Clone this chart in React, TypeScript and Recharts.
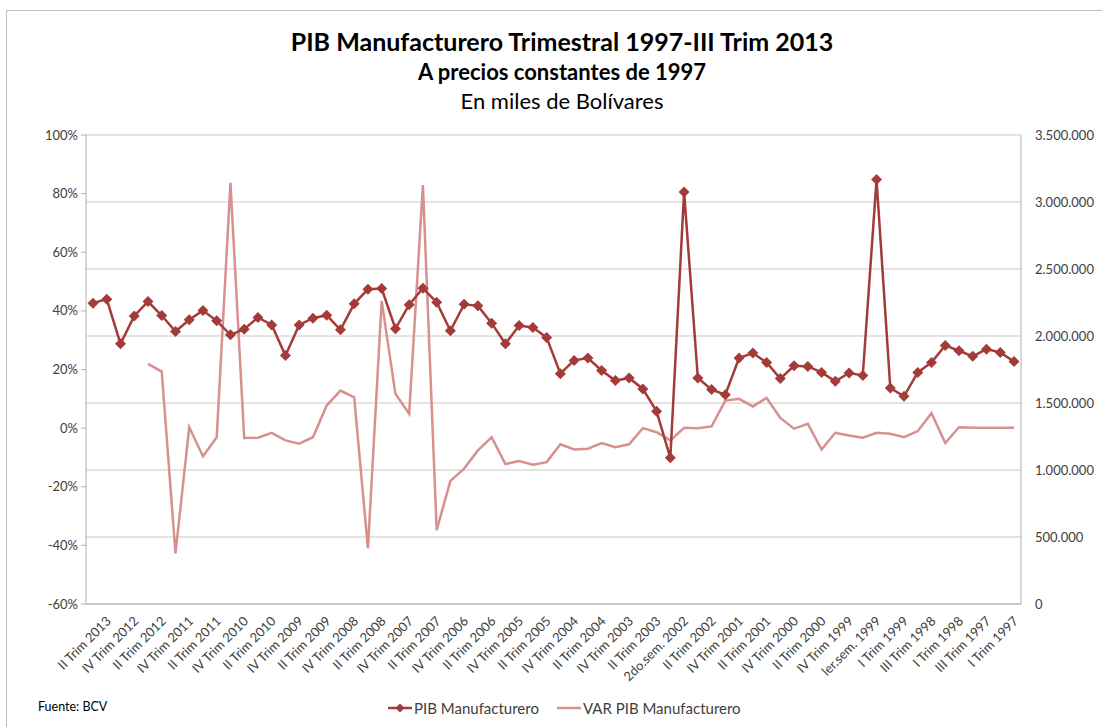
import { CartesianGrid, Line, LineChart, XAxis, YAxis } from "recharts";

const categories = [
  "III Trim 2013", "II Trim 2013", "I Trim 2013",
  "IV Trim 2012", "III Trim 2012", "II Trim 2012", "I Trim 2012",
  "IV Trim 2011", "III Trim 2011", "II Trim 2011", "I Trim 2011",
  "IV Trim 2010", "III Trim 2010", "II Trim 2010", "I Trim 2010",
  "IV Trim 2009", "III Trim 2009", "II Trim 2009", "I Trim 2009",
  "IV Trim 2008", "III Trim 2008", "II Trim 2008", "I Trim 2008",
  "IV Trim 2007", "III Trim 2007", "II Trim 2007", "I Trim 2007",
  "IV Trim 2006", "III Trim 2006", "II Trim 2006", "I Trim 2006",
  "IV Trim 2005", "III Trim 2005", "II Trim 2005", "I Trim 2005",
  "IV Trim 2004", "III Trim 2004", "II Trim 2004", "I Trim 2004",
  "IV Trim 2003", "III Trim 2003", "II Trim 2003", "I Trim 2003",
  "2do.sem. 2002", "III Trim 2002", "II Trim 2002", "I Trim 2002",
  "IV Trim 2001", "III Trim 2001", "II Trim 2001", "I Trim 2001",
  "IV Trim 2000", "III Trim 2000", "II Trim 2000", "I Trim 2000",
  "IV Trim 1999", "III Trim 1999", "ler.sem. 1999", "II Trim 1999", "I Trim 1999",
  "IV Trim 1998", "III Trim 1998", "II Trim 1998", "I Trim 1998",
  "IV Trim 1997", "III Trim 1997", "II Trim 1997", "I Trim 1997",
];

// miles de Bs. (eje derecho)
const pibManufacturero = [
  2245000, 2275000, 1942000,
  2150000, 2257000, 2153000, 2034000,
  2121000, 2190000, 2113000, 2009000,
  2051000, 2138000, 2083000, 1855000,
  2083000, 2133000, 2155000, 2046000,
  2240000, 2349000, 2354000, 2054000,
  2234000, 2356000, 2252000, 2039000,
  2237000, 2225000, 2096000, 1942000,
  2078000, 2063000, 1989000, 1719000,
  1818000, 1836000, 1743000, 1667000,
  1687000, 1605000, 1438000, 1091000,
  3075000, 1687000, 1600000, 1562000,
  1836000, 1873000, 1803000, 1682000,
  1778000, 1773000, 1728000, 1662000,
  1724000, 1706000, 3167000, 1612000, 1550000,
  1728000, 1803000, 1930000, 1890000,
  1848000, 1902000, 1877000, 1810000,
];

// % (eje izquierdo)
const varPibManufacturero: (number | null)[] = [
  null, null, null,
  null, 21.9, 19.3, -42.7,
  0.3, -9.6, -3.1, 83.7,
  -3.4, -3.3, -1.6, -4.2,
  -5.3, -3.1, 7.7, 12.8,
  10.5, -41.0, 43.4, 11.7,
  4.9, 82.9, -34.8, -18.0,
  -13.8, -7.6, -3.1, -12.3,
  -11.2, -12.5, -11.6, -5.5,
  -7.3, -7.0, -5.1, -6.5,
  -5.5, 0.0, -1.4, -4.2,
  0.1, 0.0, 0.6, 9.4,
  10.0, 7.4, 10.3, 3.5,
  -0.2, 1.5, -7.3, -1.6,
  -2.5, -3.3, -1.6, -1.9, -3.1,
  -1.0, 5.1, -5.1, 0.3,
  0.1, 0.1, 0.1, 0.1,
];

const leftTicks = [-60, -40, -20, 0, 20, 40, 60, 80, 100];
const rightTicks = [0, 500000, 1000000, 1500000, 2000000, 2500000, 3000000, 3500000];

const seriesNames = ["PIB Manufacturero", "VAR PIB Manufacturero"];

const PIB_COLOR = "#a33b39";
const VAR_COLOR = "#d6918e";
const AXIS_TEXT = "#404040";
const FRAME = "#b0b0b0";
const FONT = "Lato, 'Open Sans', sans-serif";

const data = categories.map((label, i) => ({
  label,
  pib: pibManufacturero[i],
  var: varPibManufacturero[i],
}));

const formatMiles = (v: number) => String(v).replace(/\B(?=(\d{3})+(?!\d))/g, ".");

function Diamond(props: any) {
  const { cx, cy, index } = props;
  if (cx == null || cy == null) return <g key={index} />;
  const r = 5.5;
  return (
    <polygon
      key={index}
      points={`${cx},${cy - r} ${cx + r},${cy} ${cx},${cy + r} ${cx - r},${cy}`}
      fill={PIB_COLOR}
    />
  );
}

function CategoryTick(props: any) {
  const { x, y, payload, index } = props;
  if (index % 2 === 0) return <g />;
  return (
    <text
      transform={`translate(${x + 5},${y + 18}) rotate(-45)`}
      textAnchor="end"
      fontSize={13}
      fill={AXIS_TEXT}
    >
      {payload.value}
    </text>
  );
}

function LegendMark({ diamond, color }: { diamond: boolean; color: string }) {
  return (
    <svg width={24} height={12} style={{ display: "block" }}>
      <line x1={0} y1={6} x2={24} y2={6} stroke={color} strokeWidth={2.5} />
      {diamond && <polygon points="12,1.5 16.5,6 12,10.5 7.5,6" fill={color} />}
    </svg>
  );
}

export default function App() {
  return (
    <div
      style={{
        position: "absolute",
        left: 0,
        top: 0,
        width: 1102,
        height: 727,
        background: "#fff",
        fontFamily: FONT,
        overflow: "hidden",
      }}
    >
      <div
        style={{
          position: "absolute",
          left: 6,
          top: 10,
          right: -2,
          bottom: -2,
          borderLeft: "1px solid #bdbdbd",
          borderTop: "1px solid #bdbdbd",
        }}
      />
      <div style={{ position: "absolute", left: 0, width: 1124, textAlign: "center", color: "#000" }}>
        <div style={{ position: "absolute", left: 0, right: 0, top: 25, fontSize: 25, fontWeight: 700, lineHeight: "32px" }}>
          PIB Manufacturero Trimestral 1997-III Trim 2013
        </div>
        <div style={{ position: "absolute", left: 0, right: 0, top: 58, fontSize: 22, fontWeight: 700, lineHeight: "28px" }}>
          A precios constantes de 1997
        </div>
        <div style={{ position: "absolute", left: 0, right: 0, top: 87, fontSize: 22, lineHeight: "28px" }}>
          En miles de Bolívares
        </div>
      </div>

      <LineChart
        width={1102}
        height={727}
        data={data}
        margin={{ top: 135, right: 21, bottom: 33, left: 26 }}
      >
        <CartesianGrid yAxisId="right" vertical={false} stroke="#c9c9c9" />
        <XAxis
          dataKey="label"
          interval={0}
          padding={{ left: 7, right: 7 }}
          tickLine={false}
          axisLine={{ stroke: FRAME }}
          tickSize={0}
          tickMargin={0}
          height={90}
          tick={<CategoryTick />}
        />
        <YAxis
          yAxisId="left"
          width={60}
          domain={[-60, 100]}
          ticks={leftTicks}
          tickFormatter={(v) => `${v}%`}
          axisLine={{ stroke: FRAME }}
          tickLine={{ stroke: FRAME }}
          tickSize={5}
          tickMargin={3}
          tick={{ fontSize: 13, fill: AXIS_TEXT }}
        />
        <YAxis
          yAxisId="right"
          orientation="right"
          width={60}
          domain={[0, 3500000]}
          ticks={rightTicks}
          tickFormatter={formatMiles}
          axisLine={{ stroke: FRAME }}
          tickLine={false}
          tickSize={0}
          tickMargin={14}
          tick={{ fontSize: 13, fill: AXIS_TEXT }}
        />
        <Line
          yAxisId="left"
          dataKey="var"
          name={seriesNames[1]}
          stroke={VAR_COLOR}
          strokeWidth={2.5}
          dot={false}
          activeDot={false}
          connectNulls={false}
          isAnimationActive={false}
        />
        <Line
          yAxisId="right"
          dataKey="pib"
          name={seriesNames[0]}
          stroke={PIB_COLOR}
          strokeWidth={2.5}
          dot={<Diamond />}
          activeDot={false}
          isAnimationActive={false}
        />
      </LineChart>

      <div style={{ position: "absolute", left: 38, top: 699, fontSize: 12.5, color: "#000" }}>Fuente: BCV</div>
      <div
        style={{
          position: "absolute",
          left: 388,
          top: 699,
          display: "flex",
          alignItems: "center",
          fontSize: 15,
          color: AXIS_TEXT,
        }}
      >
        <LegendMark diamond color={PIB_COLOR} />
        <span style={{ marginLeft: 2 }}>{seriesNames[0]}</span>
        <span style={{ width: 18 }} />
        <LegendMark diamond={false} color={VAR_COLOR} />
        <span style={{ marginLeft: 2 }}>{seriesNames[1]}</span>
      </div>
    </div>
  );
}
